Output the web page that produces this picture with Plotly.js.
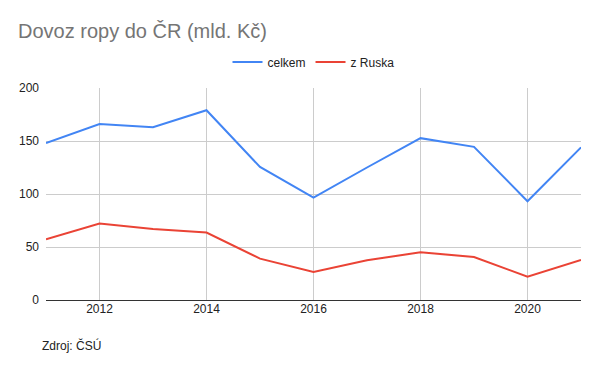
<!DOCTYPE html>
<html><head><meta charset="utf-8">
<script src="https://cdn.plot.ly/plotly-3.0.1.min.js"></script>
<style>html,body{margin:0;padding:0;background:#fff}#c{width:600px;height:371px}</style>
</head><body><div id="c"></div>
<script>
const years = [2011,2012,2013,2014,2015,2016,2017,2018,2019,2020,2021];
const celkem = [148,166,163,179,125.5,96.7,125,152.7,144.5,93.2,144];
const zRuska = [57.3,72.1,67,63.6,39,26.5,37.5,45,40.6,22,37.8];
const seriesNames = ["celkem","z Ruska"];
const xTicks = [2012,2014,2016,2018,2020];
const yTicks = [0,50,100,150,200];
const font = "Arial, 'Liberation Sans', sans-serif";
const data = [
  {x: years, y: celkem, name: seriesNames[0], type: "scatter", mode: "lines", line: {color: "#4285F4", width: 2}},
  {x: years, y: zRuska, name: seriesNames[1], type: "scatter", mode: "lines", line: {color: "#EA4335", width: 2}}
];
const layout = {
  width: 600, height: 371,
  margin: {l: 46, r: 19, t: 88, b: 71},
  paper_bgcolor: "#fff", plot_bgcolor: "#fff",
  font: {family: font, size: 12, color: "#222"},
  title: {text: "Dovoz ropy do ČR (mld. Kč)", xref: "container", yref: "container", x: 18/600, xanchor: "left", y: 1 - 31/371, yanchor: "middle", font: {family: font, size: 20, color: "#757575"}},
  showlegend: true,
  legend: {orientation: "h", x: 0.5, xanchor: "center", y: 1 + 26/212, yanchor: "middle", font: {size: 12, color: "#222"}, itemwidth: 30, traceorder: "normal"},
  xaxis: {range: [2011, 2021], tickvals: xTicks, ticktext: xTicks.map(String), showgrid: true, gridcolor: "#ccc", gridwidth: 1, zeroline: false, showline: false, ticks: "", tickfont: {size: 12, color: "#222"}},
  yaxis: {range: [0, 200], tickvals: yTicks, showgrid: true, gridcolor: "#ccc", gridwidth: 1, zeroline: true, zerolinecolor: "#333", zerolinewidth: 1, showline: false, ticks: "", ticklabelstandoff: 6, tickfont: {size: 12, color: "#222"}},
  annotations: [{text: "Zdroj: ČSÚ", xref: "paper", yref: "paper", x: -6/535, y: -45/212, xanchor: "left", yanchor: "middle", showarrow: false, font: {family: font, size: 12, color: "#222"}}]
};
Plotly.newPlot("c", data, layout, {staticPlot: true, displayModeBar: false});
</script></body></html>
